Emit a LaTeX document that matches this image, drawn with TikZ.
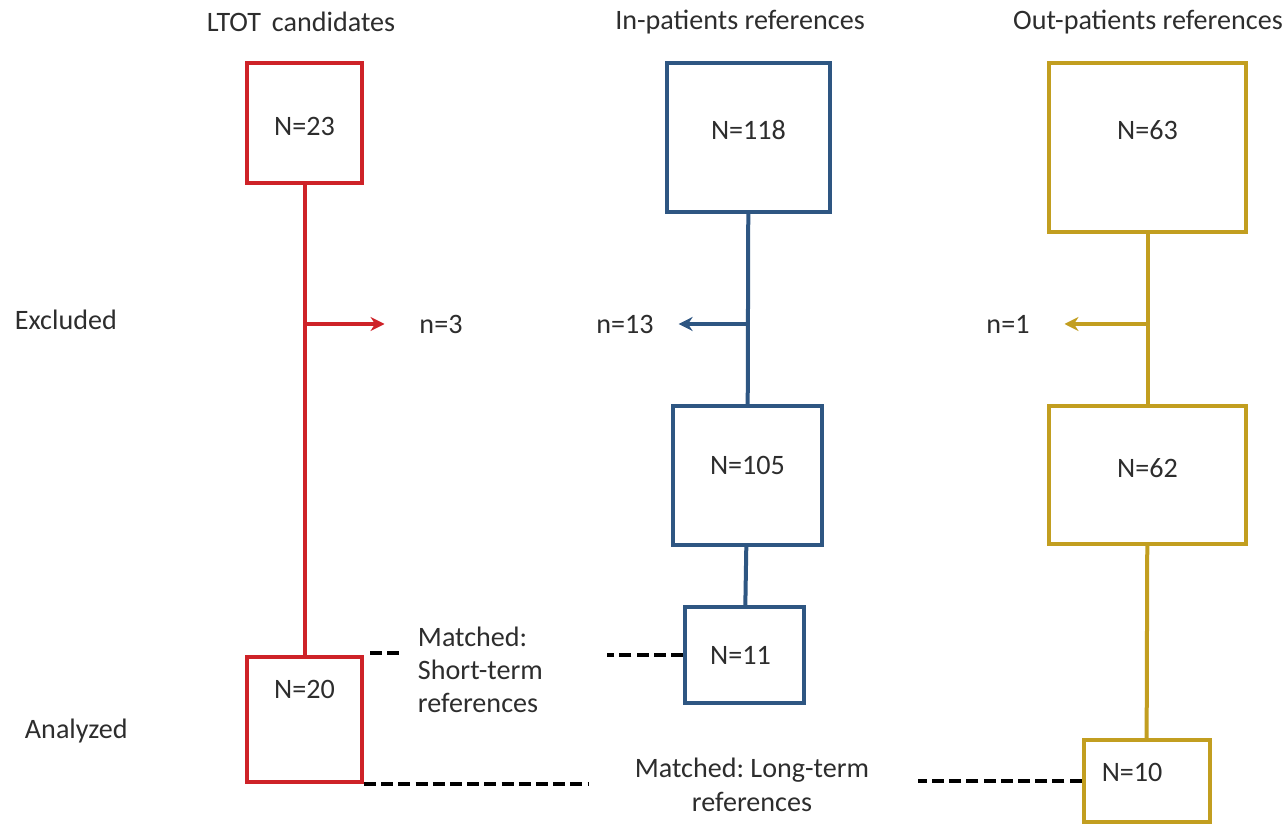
\documentclass[tikz,border=0pt]{standalone}
\usepackage{fontspec}
\setmainfont{Carlito}
\usetikzlibrary{arrows.meta}

\definecolor{ltotred}{RGB}{206,34,40}
\definecolor{inblue}{RGB}{46,86,130}
\definecolor{outgold}{RGB}{194,158,32}
\definecolor{txtgray}{RGB}{45,45,45}

\tikzset{
    box/.style={draw, line width=1mm, inner sep=0pt, label/.append style={text=txtgray}},
    flow/.style={line width=1mm},
    excl/.style={line width=1mm, -{Stealth[length=3.5mm,width=3.5mm]}},
    match/.style={black, line width=0.8mm, dash pattern=on 3mm off 1.3mm},
}

\begin{document}
\begin{tikzpicture}[x=0.25mm, y=-0.25mm, font=\fontsize{20}{24}\selectfont, text=txtgray]
    \useasboundingbox (0,0) rectangle (1288,824);

    \node (tltot) at (301,22) {LTOT\, candidates};
    \node (tin) at (740,22) {In-patients references};
    \node (tout) at (1148,22) {Out-patients references};

    \node[anchor=west] (excluded) at (10,320) {Excluded};
    \node[anchor=west] (analyzed) at (20,731) {Analyzed};

    % LTOT column
    \node[box, ltotred, minimum width=28.75mm, minimum height=30mm,
        label={[yshift=-0.75mm]center:N=23}] (ltot) at (304.5,123) {};
    \node[box, ltotred, minimum width=28.75mm, minimum height=31.25mm,
        label={[yshift=7.4mm]center:N=20}] (ana) at (304.5,719.5) {};
    \draw[flow, ltotred] (ltot) -- (ana);

    % in-patients column
    \node[box, inblue, minimum width=40.75mm, minimum height=37.25mm,
        label={[yshift=1.9mm]center:N=118}] (inp1) at (748.5,137.5) {};
    \node[box, inblue, minimum width=37.25mm, minimum height=34.75mm,
        label={[yshift=2.4mm]center:N=105}] (inp2) at (747.5,475.5) {};
    \node[box, inblue, minimum width=29.75mm, minimum height=24mm,
        label={[xshift=-1mm]center:N=11}] (inp3) at (744.5,655) {};
    \draw[flow, inblue] (inp1) -- (inp2);
    \draw[flow, inblue] (inp2) -- (inp3);

    % out-patients column
    \node[box, outgold, minimum width=49.25mm, minimum height=42.25mm,
        label={[yshift=4.4mm]center:N=63}] (out1) at (1147.5,147.5) {};
    \node[box, outgold, minimum width=49.25mm, minimum height=34.5mm,
        label={[yshift=1.75mm]center:N=62}] (out2) at (1147.5,475) {};
    \node[box, outgold, minimum width=31.5mm, minimum height=20.5mm,
        label={[xshift=-3.6mm,yshift=2.2mm]center:N=10}] (out3) at (1146.5,781) {};
    \draw[flow, outgold] (out1) -- (out2);
    \draw[flow, outgold] (out2) -- (out3);

    % exclusions
    \coordinate (exY) at (0,324);
    \node (n3) at (441,324) {n=3};
    \node (n13) at (625,324) {n=13};
    \node (n1) at (1008,324) {n=1};
    \draw[excl, ltotred] (ltot |- exY) -- ([xshift=-7.5mm]n3.west);
    \draw[excl, inblue] (inp1 |- exY) -- ([xshift=5mm]n13.east);
    \draw[excl, outgold] (out1 |- exY) -- ([xshift=7.5mm]n1.east);

    % matching
    \node[anchor=west, align=left, font=\fontsize{20}{23.5}\selectfont] (matchS) at (413,670)
        {Matched:\\Short-term\\references};
    \node[align=center, font=\fontsize{20}{24}\selectfont] (matchL) at (752,785)
        {Matched:\ Long-term\\references};
    \draw[match] ([xshift=1.5mm,yshift=0.5mm]ana.north east) -- ++(8mm,0);
    \draw[match] (inp3.west) -- ++(-19mm,0);
    \draw[match] (ana.south east) -- ++(56mm,0);
    \draw[match] (out3.west) -- ++(-41mm,0);
\end{tikzpicture}
\end{document}
